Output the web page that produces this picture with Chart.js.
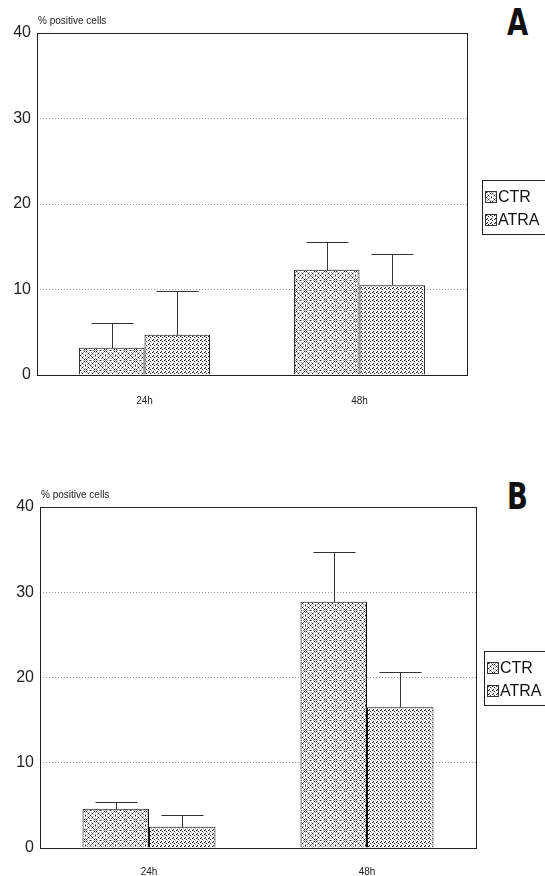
<!DOCTYPE html>
<html lang="en">
<head>
<meta charset="UTF-8">
<title>% positive cells</title>
<script src="https://cdn.jsdelivr.net/npm/chart.js"></script>
<style>
    body { margin: 0; background: #fff; width: 545px; height: 876px; position: relative; overflow: hidden;
           font-family: "Liberation Sans Narrow", "Liberation Sans", Arial, sans-serif; }
    .panel { position: absolute; left: 0; }
    .letter { position: absolute; font-weight: bold; font-size: 38px; line-height: 38px; color: #111;
              font-family: "Liberation Sans Narrow", "DejaVu Sans Condensed", sans-serif; transform: scaleX(0.8); transform-origin: left top; }
    .legend { position: absolute; border: 1px solid #222; border-right: none; background: #fff; padding: 4px 0 3px 2px; }
    .legend div { display: flex; align-items: center; font-size: 16px; height: 23px; color: #111; }
    .legend canvas { width: 10px; height: 10px; border: 1px solid #333; margin-right: 1px; }
</style>
</head>
<body>
    <div class="panel" style="top:0; width:476px; height:405px;"><canvas id="chartA" width="476" height="405"></canvas></div>
    <div class="panel" style="top:470px; width:484px; height:406px;"><canvas id="chartB" width="484" height="406"></canvas></div>

    <div class="letter" style="left:507px; top:3px;">A</div>
    <div class="letter" style="left:507px; top:477px;">B</div>

    <div class="legend" style="left:482px; top:180px; width:70px;">
        <div><canvas class="swCtr" width="10" height="10"></canvas>CTR</div>
        <div><canvas class="swAtra" width="10" height="10"></canvas>ATRA</div>
    </div>
    <div class="legend" style="left:484px; top:651px; width:70px;">
        <div><canvas class="swCtr" width="10" height="10"></canvas>CTR</div>
        <div><canvas class="swAtra" width="10" height="10"></canvas>ATRA</div>
    </div>

<script>
    const categories = ['24h', '48h']
    const yTicks = [0, 10, 20, 30, 40]
    const seriesNames = ['CTR', 'ATRA']

    // panel A
    const ctrA = [3.2, 12.3]
    const ctrAErr = [2.9, 3.3]
    const atraA = [4.7, 10.5]
    const atraAErr = [5.1, 3.7]

    // panel B
    const ctrB = [4.6, 28.9]
    const ctrBErr = [0.8, 5.8]
    const atraB = [2.5, 16.5]
    const atraBErr = [1.4, 4.1]

    const axisFont = '"Liberation Sans Narrow", "Liberation Sans", Arial, sans-serif'

    // stippled fills like the printed figure
    const makePattern = (kind) => {
        const c = document.createElement('canvas')
        const s = kind === 'ctr' ? 10 : 4
        c.width = s; c.height = s
        const g = c.getContext('2d')
        g.fillStyle = '#fff'
        g.fillRect(0, 0, s, s)
        if (kind === 'ctr') {
            g.fillStyle = '#999'
            for (let i = 0; i < s; i += 2) for (let j = 0; j < s; j += 2) g.fillRect(i + 1, j, 1, 1)
            g.fillStyle = '#111'
            // diamond lattice
            for (let k = 0; k < s; k += 1) {
                if (k % 2) continue
                g.fillRect(k, (5 + k) % s, 1, 1)
                g.fillRect(k, (5 - k + s) % s, 1, 1)
            }
            g.fillRect(5, 5, 1, 1)
            g.fillRect(0, 0, 1, 1)
        } else {
            g.fillStyle = '#aaa'
            g.fillRect(1, 0, 1, 1); g.fillRect(3, 2, 1, 1)
            g.fillStyle = '#222'
            g.fillRect(0, 0, 1, 1); g.fillRect(2, 1, 1, 1); g.fillRect(1, 3, 1, 1)
        }
        return g.createPattern(c, 'repeat')
    }

    document.querySelectorAll('.swCtr, .swAtra').forEach(sw => {
        const g = sw.getContext('2d')
        g.fillStyle = makePattern(sw.classList.contains('swCtr') ? 'ctr' : 'atra')
        g.fillRect(0, 0, 10, 10)
    })

    const framePlugin = {
        id: 'frame',
        afterDraw(chart) {
            const a = chart.chartArea
            const ctx = chart.ctx
            ctx.save()
            ctx.strokeStyle = '#222'
            ctx.lineWidth = 1
            ctx.strokeRect(Math.round(a.left) + 0.5, Math.round(a.top) + 0.5, Math.round(a.right - a.left), Math.round(a.bottom - a.top))
            ctx.fillStyle = '#222'
            ctx.font = '10px ' + axisFont
            ctx.textBaseline = 'alphabetic'
            ctx.fillText('% positive cells', a.left + 1, a.top - 9)
            ctx.restore()
        }
    }

    const errorPlugin = {
        id: 'errorBars',
        afterDatasetsDraw(chart, args, opts) {
            const ctx = chart.ctx
            const y = chart.scales.y
            ctx.save()
            ctx.strokeStyle = '#333'
            ctx.lineWidth = 1
            chart.data.datasets.forEach((ds, di) => {
                const meta = chart.getDatasetMeta(di)
                meta.data.forEach((bar, i) => {
                    const x = Math.round(bar.x) + 0.5
                    const top = Math.round(y.getPixelForValue(ds.data[i] + opts.errors[di][i])) + 0.5
                    const base = Math.round(bar.y)
                    ctx.beginPath()
                    ctx.moveTo(x, base)
                    ctx.lineTo(x, top)
                    ctx.moveTo(x - 21, top)
                    ctx.lineTo(x + 21, top)
                    ctx.stroke()
                })
            })
            ctx.restore()
        }
    }

    const makeChart = (id, ctrVals, atraVals, errs, pad) => {
        const ctx = document.getElementById(id).getContext('2d')
        return new Chart(ctx, {
            type: 'bar',
            data: {
                labels: categories,
                datasets: [
                    {
                        label: seriesNames[0],
                        data: ctrVals,
                        backgroundColor: makePattern('ctr'),
                        borderColor: '#111',
                        borderWidth: 1
                    },
                    {
                        label: seriesNames[1],
                        data: atraVals,
                        backgroundColor: makePattern('atra'),
                        borderColor: '#111',
                        borderWidth: 1
                    }
                ]
            },
            options: {
                responsive: false,
                animation: false,
                layout: { padding: { top: pad.top, right: pad.right, left: 0, bottom: 0 } },
                datasets: { bar: { categoryPercentage: 0.61, barPercentage: 1 } },
                plugins: {
                    legend: { display: false },
                    tooltip: { enabled: false },
                    errorBars: { errors: errs }
                },
                scales: {
                    x: {
                        grid: { display: false },
                        border: { display: false },
                        ticks: { color: '#222', font: { family: axisFont, size: 10 }, padding: pad.xPad },
                        afterFit: s => { s.height = pad.xH }
                    },
                    y: {
                        min: 0,
                        max: 40,
                        afterBuildTicks: s => { s.ticks = yTicks.map(v => ({ value: v })) },
                        grid: { color: '#999', drawTicks: false, lineWidth: 1 },
                        border: { display: false, dash: [1, 2] },
                        ticks: { color: '#222', font: { family: axisFont, size: 16 }, padding: 6 },
                        afterFit: s => { s.width = pad.yW }
                    }
                }
            },
            plugins: [errorPlugin, framePlugin]
        })
    }

    makeChart('chartA', ctrA, atraA, [ctrAErr, atraAErr], { top: 33, right: 9, xH: 30, xPad: 12, yW: 37 })
    makeChart('chartB', ctrB, atraB, [ctrBErr, atraBErr], { top: 37, right: 8, xH: 28, xPad: 10, yW: 40 })
</script>
</body>
</html>
